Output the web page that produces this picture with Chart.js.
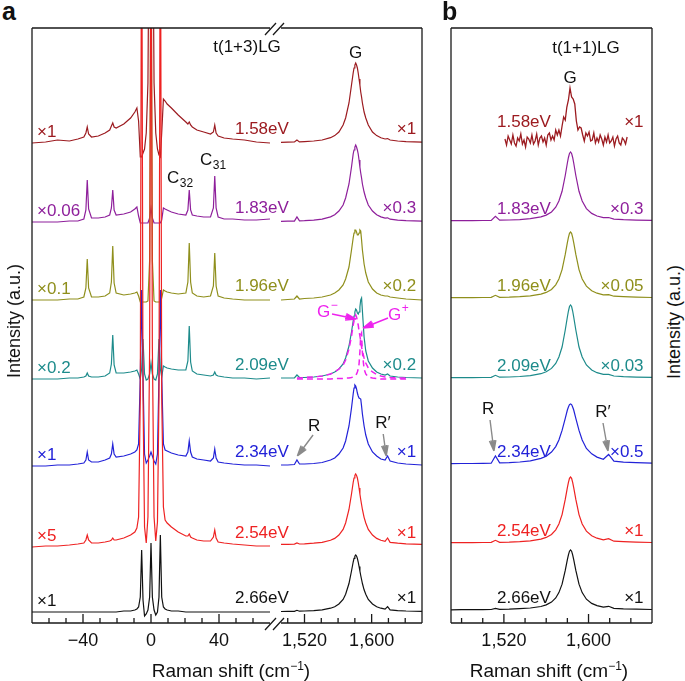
<!DOCTYPE html>
<html>
<head>
<meta charset="utf-8">
<script src="https://cdn.jsdelivr.net/npm/chart.js"></script>
<style>
  body { margin: 0; background: #fff; }
  #fig { position: relative; width: 685px; height: 681px; overflow: hidden;
         font-family: "Liberation Sans", Arial, Helvetica, sans-serif; color: #111; }
  #fig canvas { position: absolute; }
  .t { position: absolute; white-space: nowrap; line-height: 1; }
  .panel { font-weight: bold; font-size: 25px; }
  .xt { font-size: 19px; transform: translate(-50%, -50%); }
  .yt { font-size: 18px; transform: translate(-50%, -50%) rotate(-90deg); }
  sup { font-size: 12px; vertical-align: 7px; line-height: 0; }
</style>
</head>
<body>
<div id="fig">
  <canvas id="aLeft" width="268" height="663" style="left:22px;top:18px"></canvas>
  <canvas id="aRight" width="161" height="663" style="left:271px;top:18px"></canvas>
  <canvas id="bPanel" width="221" height="663" style="left:441px;top:18px"></canvas>
  <div class="t panel" style="left:2px;top:-1px">a</div>
  <div class="t panel" style="left:442px;top:-1px">b</div>
  <div class="t yt" style="left:14px;top:321px">Intensity (a.u.)</div>
  <div class="t yt" style="left:674px;top:322px">Intensity (a.u.)</div>
  <div class="t xt" style="left:231px;top:670px">Raman shift (cm<sup>−1</sup>)</div>
  <div class="t xt" style="left:549px;top:670px">Raman shift (cm<sup>−1</sup>)</div>
</div>

<script>
// excitation energies, top to bottom
const energies = ['1.58eV', '1.83eV', '1.96eV', '2.09eV', '2.34eV', '2.54eV', '2.66eV'];
const factorsLow = ['×1', '×0.06', '×0.1', '×0.2', '×1', '×5', '×1'];
const factorsG = ['×1', '×0.3', '×0.2', '×0.2', '×1', '×1', '×1'];
const factorsB = ['×1', '×0.3', '×0.05', '×0.03', '×0.5', '×1', '×1'];
// vertical stacking of the spectra (a.u.)
const offsetsA = [480, 401, 323, 244, 157, 76, 11];
const offsetsB = [481, 402, 325, 245, 159, 80, 13];

// panel a, low-frequency region (cm-1)
const lowX = [-70, -62, -55, -48, -43, -39.5, -38.3, -37.5, -36.7, -35, -31, -27, -24.3, -23.3, -22.5,
  -21.7, -20.5, -16, -12, -9.5, -8.3, -7.3, -6.3, -5.5, -4.7, -3.8, -2.8, -1.8, -0.8, 0,
  0.8, 1.8, 2.8, 3.8, 4.7, 5.5, 6.3, 7.3, 8.3, 9.5, 12, 16, 20.5, 21.7, 22.5,
  23.3, 24.3, 27, 31, 35, 36.7, 37.5, 38.3, 39.5, 43, 48, 55, 62, 70];
const low158 = [0, 1, 3, 2, 4, 6, 10, 16, 9, 6, 7, 10, 13, 17, 20, 16, 15, 19, 25, 31, 35, 22, -14, -14, -10,
  -6, 10, 60, 300, 600, 300, 60, 10, -6, -12, -14, 10, 44, 42, 39, 35, 28, 21, 19, 21, 18, 16, 13, 11, 9,
  11, 18, 10, 7, 5, 4, 3, 1, 0];
const low183 = [0, 0, 0, 1, 1, 3, 12, 42, 13, 4, 4, 5, 7, 14, 32, 12, 7, 8, 10, 13, 15, 6, -1, -1, -1,
  -1, -1, -1, 4, 14, 4, -1, -1, -1, -1, -1, 2, 14, 13, 12, 10, 8, 7, 12, 32, 12, 7, 6, 5, 5,
  14, 46, 14, 5, 3, 3, 2, 2, 3];
const low196 = [0, 0, 0, 1, 1, 3, 12, 41, 12, 3, 3, 4, 7, 18, 54, 17, 7, 5, 6, 7, 8, 4, -2, -2, -2,
  -2, -2, -1, 40, 400, 40, -1, -2, -2, -2, -2, 2, 10, 9, 8, 7, 6, 7, 18, 57, 18, 7, 4, 3, 4,
  14, 47, 14, 4, 2, 1, 0, 0, 0];
const low209 = [0, 0, 0, 1, 1, 2, 3, 6, 3, 2, 2, 3, 6, 15, 44, 14, 6, 6, 7, 8, 9, 5, 0, 10, 40,
  5, -1, 0, 5, 16, 5, 0, -1, 5, 40, 10, 2, 13, 12, 11, 10, 9, 9, 18, 53, 17, 8, 5, 4, 3,
  4, 7, 4, 3, 2, 1, 1, 0, 1];
const low234 = [0, 0, 1, 1, 2, 3, 6, 14, 6, 4, 4, 6, 8, 12, 22, 12, 9, 10, 12, 14, 16, 22, 90, 176, 90,
  12, 3, 6, 10, 14, 10, 5, 2, 12, 90, 176, 90, 22, 16, 15, 13, 11, 10, 14, 25, 14, 9, 7, 6, 5,
  8, 17, 8, 4, 3, 2, 1, 1, 0];
const low254 = [0, 1, 1, 2, 3, 4, 7, 12, 7, 4, 4, 5, 6, 7, 9, 7, 7, 9, 12, 15, 19, 30, 150, 700, 150,
  20, 4, 30, 200, 700, 200, 30, 6, 25, 150, 700, 150, 40, 27, 24, 20, 15, 11, 11, 13, 10, 9, 7, 6, 6,
  10, 17, 9, 5, 4, 3, 2, 1, 1];
const low266 = [0, 0, 0, 0, 0, 0, 0, 0, 0, 0, 0, 0, 0, 0, 0, 0, 0, 1, 1, 2, 3, 5, 15, 62, 12,
  -4, -2, 2, 15, 69, 15, 2, -3, 0, 15, 77, 15, 5, 3, 2, 1, 1, 0, 0, 0, 0, 0, 0, 0, 0,
  0, 0, 0, 0, 0, 0, 0, 0, 0];

// panel a, G band region (cm-1)
const gX = [1492, 1500, 1508, 1511, 1514, 1520, 1531, 1541, 1551, 1556, 1561, 1566, 1569, 1573, 1576,
  1578, 1579, 1580, 1581, 1582, 1583, 1584, 1585, 1586, 1587, 1588, 1589, 1591, 1593, 1596,
  1601, 1606, 1611, 1616, 1619, 1622, 1631, 1641, 1660];
const g158 = [0.6, 0.8, 1, 3, 1.1, 1.4, 2, 3, 5.3, 7.4, 11, 18, 25, 40, 58, 70, 75, 78, 80, 78,
  75, 70, 64, 58, 51, 46, 40, 31, 25, 18, 11, 7.4, 5.3, 4, 4.4, 3, 2, 1.4, 0.8];
const g183 = [0.6, 0.8, 0.9, 5, 1.1, 1.3, 1.9, 2.9, 5.1, 7.2, 11, 17, 24, 38, 55, 68, 72, 75, 77, 75,
  72, 68, 62, 55, 49, 44, 38, 30, 24, 17, 11, 7.2, 5.1, 3.9, 4.2, 2.8, 1.9, 1.3, 0.8];
const g196 = [0, 0.5, 1, 4, 1, 1.5, 2, 3, 5, 7, 10, 15, 21, 33, 50, 62, 67, 70, 70, 68,
  65, 65, 67, 70, 69, 60, 50, 36, 27, 18, 11, 7, 5, 4, 4, 3, 2, 1, 0];
const g209 = [1, 1, 1, 4, 1.5, 1.5, 2, 3, 5, 7, 10, 15, 21, 33, 47, 58, 63, 67, 70, 69,
  66, 65, 67, 72, 79, 81, 68, 42, 28, 18, 11, 7, 5, 4, 5, 3, 2, 1.5, 1];
const gMinus = [null, null, null, 1, 1, 1.5, 2, 3, 5, 7, 10, 14, 19, 30, 43, 54, 58, 62, 64, 62,
  58, 54, 48, 43, 38, 32, 28, 21, 16, 11, 7, 4.5, 3, 2, 2, 1.5, 1, 1, null];
const gPlus = [null, null, null, 0, 0, 0, 0, 0, 0, 0.5, 0.5, 0.5, 1, 1, 1.5, 2, 2.5, 3, 4, 5,
  7, 10, 15, 27, 44, 46, 26, 10, 5, 2, 1, 0.5, 0, 0, 0, 0, 0, 0, null];
const g234 = [1, 1, 1.5, 6, 2, 2, 2.5, 3.5, 6, 8, 12, 18, 25, 40, 58, 72, 78, 81, 80, 77,
  73, 70, 68, 68, 67, 60, 52, 40, 31, 22, 14, 10, 7, 6, 10, 5, 3, 2, 1];
const g254 = [2.6, 2.7, 2.9, 4, 3, 3.2, 3.8, 4.7, 6.7, 8.6, 12, 17.6, 24, 37.5, 53, 64.5, 69, 71.6, 73, 71.6,
  69, 64.5, 59, 53, 47.5, 42.5, 37.5, 29.7, 24, 17.6, 12, 8.6, 6.7, 5.6, 9, 4.6, 3.8, 3.2, 2.7];
const g266 = [0.5, 0.6, 0.7, 1.7, 0.8, 1, 1.4, 2.2, 3.8, 5.3, 8, 12.5, 17.7, 28.5, 41, 50, 53.6, 55.9, 57, 55.9,
  53.6, 50, 45.6, 41, 36.5, 32.5, 28.5, 22.2, 17.7, 12.5, 8, 5.3, 3.8, 2.9, 5.4, 2.1, 1.4, 1, 0.6];

// panel b, G band region (cm-1)
const bX = [1470, 1480, 1490, 1500, 1508, 1512, 1516, 1525, 1535, 1545, 1555, 1560, 1565, 1569, 1572,
  1575, 1578, 1580, 1581, 1582, 1583, 1584, 1585, 1586, 1588, 1591, 1594, 1598, 1603, 1608,
  1614, 1619, 1624, 1633, 1645, 1660];
const b158Start = 1521, b158Step = 1.5;
const b158 = [3, -3, 6, 2, -2, 7, -1, -4, 4, 1, 8, -2, 2, -5, 5, 3, -1, 7, -2, 1,
  8, -3, 4, 6, 0, 4, -3, 7, 9, 2, 6, 2, 12, 7, 12, 6, 16, 25, 22, 35,
  42, 54, 45, 43, 38, 21, 12, 15, 14, 7, 1, 9, 6, 10, 1, 2, 9, -1, 4, 0,
  7, 3, -3, 5, 0, 7, -1, 1, 5, -4, 3, 6, -1, -3, 4, 2, -2, 5];
const b183 = [0.3, 0.3, 0.4, 0.5, 0.6, 4.7, 0.8, 1, 1.4, 2.3, 4.1, 5.9, 9, 13.8, 20, 29.7, 45.5, 58,
  63.5, 67.6, 69, 67.6, 63.5, 58, 45.5, 29.7, 20, 12.4, 7.6, 5, 3.4, 3.5, 1.9, 1.3, 0.9, 0.6];
const b196 = [0.3, 0.3, 0.4, 0.5, 0.6, 2.7, 0.7, 0.9, 1.4, 2.2, 3.9, 5.6, 8.6, 13.2, 19, 28.4, 43.6, 55.4,
  60.7, 64.7, 66, 64.7, 60.7, 55.4, 43.6, 28.4, 19, 11.9, 7.3, 4.8, 3.2, 3.4, 1.8, 1.3, 0.9, 0.5];
const b209 = [0.3, 0.4, 0.4, 0.5, 0.7, 2.7, 0.8, 1, 1.5, 2.4, 4.3, 6.2, 9.6, 14.6, 21, 31, 48, 61,
  67, 71.5, 73, 71.5, 67, 61, 48, 31, 21, 13, 8, 5.3, 3.6, 3.6, 2, 1.4, 0.9, 0.6];
const b234 = [0.4, 0.5, 0.5, 0.7, 0.8, 8, 1.1, 1.4, 2, 3.2, 5.6, 7.8, 12, 17.4, 24, 33.6, 45.6, 54,
  57, 59.4, 60, 59.4, 57, 54, 45.6, 33.6, 24, 15.6, 10.2, 6.9, 4.7, 9.5, 2.8, 1.9, 1.3, 0.8];
const b254 = [0.3, 0.3, 0.4, 0.5, 0.6, 2.7, 0.7, 0.9, 1.4, 2.2, 3.9, 5.6, 8.6, 13.2, 19, 28.4, 43.6, 55.4,
  60.7, 64.7, 66, 64.7, 60.7, 55.4, 43.6, 28.4, 19, 11.9, 7.3, 4.8, 3.2, 4.4, 1.8, 1.3, 0.9, 0.5];
const b266 = [0.2, 0.3, 0.4, 0.4, 0.5, 1.6, 0.7, 0.8, 1.3, 2, 3.5, 5.1, 7.9, 12, 17.4, 25.8, 39.6, 50.4,
  55.2, 58.8, 60, 58.8, 55.2, 50.4, 39.6, 25.8, 17.4, 10.8, 6.6, 4.4, 2.9, 3.7, 1.7, 1.1, 0.8, 0.5];

// axis ticks
const lowTicks = [-60, -50, -40, -30, -20, -10, 0, 10, 20, 30, 40, 50, 60];
const lowLabels = {'-40': '−40', '0': '0', '40': '40'};
const gTicks = [1500, 1520, 1540, 1560, 1580, 1600, 1620, 1640];
const bTicks = [1480, 1500, 1520, 1540, 1560, 1580, 1600, 1620, 1640];
const gLabels = {'1520': '1,520', '1600': '1,600'};

const FONT = '"Liberation Sans", Arial, Helvetica, sans-serif';
const palette = ['#9c1b20', '#8e1f9b', '#8f8f1c', '#1d8b8b', '#2222d8', '#ee2222', '#111111'];
const magenta = '#ee22ee', grey = '#8a8a8a';
Chart.defaults.font.family = FONT;

function lineSet(xs, ys, off, color, order, extra) {
  return Object.assign({
    data: xs.map((x, i) => ({x: x, y: ys[i] == null ? null : off + ys[i]})),
    borderColor: color, borderWidth: 1.2, pointRadius: 0, tension: 0,
    fill: false, clip: 0, order: order, spanGaps: false
  }, extra || {});
}

function decor(cfg) {
  return {
    id: 'decor',
    afterDatasetsDraw(chart) {
      const {ctx, chartArea: a, scales: {x, y}} = chart;
      ctx.save();
      ctx.strokeStyle = '#1a1a1a';
      ctx.lineWidth = 1.3;
      ctx.beginPath();
      ctx.moveTo(a.left, a.top); ctx.lineTo(a.right, a.top);
      ctx.moveTo(a.left, a.bottom); ctx.lineTo(a.right, a.bottom);
      if (cfg.leftEdge) { ctx.moveTo(a.left, a.top); ctx.lineTo(a.left, a.bottom); }
      if (cfg.rightEdge) { ctx.moveTo(a.right, a.top); ctx.lineTo(a.right, a.bottom); }
      x.ticks.forEach(t => {
        const px = x.getPixelForValue(t.value);
        const len = cfg.major.includes(t.value) ? 9 : 5;
        ctx.moveTo(px, a.bottom); ctx.lineTo(px, a.bottom - len);
      });
      if (cfg.breakMarks) {
        [a.top, a.bottom].forEach(yy => {
          ctx.moveTo(a.right - 5, yy + 7); ctx.lineTo(a.right + 6, yy - 5);
          ctx.moveTo(a.right + 3, yy + 7); ctx.lineTo(a.right + 14, yy - 5);
        });
      }
      ctx.stroke();

      // arrows
      (cfg.arrows || []).forEach(ar => {
        const x0 = x.getPixelForValue(ar.from[0]), y0 = y.getPixelForValue(ar.from[1]);
        const x1 = x.getPixelForValue(ar.to[0]), y1 = y.getPixelForValue(ar.to[1]);
        const ang = Math.atan2(y1 - y0, x1 - x0);
        ctx.strokeStyle = ar.color;
        ctx.lineWidth = 1.4;
        ctx.beginPath();
        ctx.moveTo(x0, y0); ctx.lineTo(x1, y1);
        [-0.3, -0.15, 0.15, 0.3].forEach(d => {
          ctx.moveTo(x1, y1);
          ctx.lineTo(x1 - 11 * Math.cos(ang + d), y1 - 11 * Math.sin(ang + d));
        });
        ctx.stroke();
      });

      // text
      ctx.textBaseline = 'middle';
      cfg.texts.forEach(t => {
        const size = t.size || 17;
        ctx.font = size + 'px ' + FONT;
        ctx.fillStyle = t.color || '#111';
        ctx.textAlign = t.align || 'center';
        const px = x.getPixelForValue(t.x), py = y.getPixelForValue(t.y);
        ctx.fillText(t.text, px, py);
        if (t.sub || t.sup) {
          const w = ctx.measureText(t.text).width;
          ctx.font = '12px ' + FONT;
          ctx.textAlign = 'left';
          ctx.fillText(t.sub || t.sup, px + w + 0.5, py + (t.sub ? 6 : -6));
        }
      });
      ctx.restore();
    }
  };
}

function options(xmin, xmax, tickVals, tickText, padRight) {
  return {
    responsive: false, animation: false, devicePixelRatio: 1, events: [],
    layout: {padding: {left: 10, right: padRight, top: 10, bottom: 18}},
    plugins: {legend: {display: false}, tooltip: {enabled: false}},
    scales: {
      x: {
        type: 'linear', min: xmin, max: xmax,
        afterBuildTicks: s => { s.ticks = tickVals.map(v => ({value: v})); },
        afterFit: s => { s.height = 40; },
        grid: {display: false, drawTicks: false},
        border: {display: false},
        ticks: {autoSkip: false, maxRotation: 0, minRotation: 0, padding: 7, color: '#111',
                font: {size: 18}, callback: v => tickText[v] || ''}
      },
      y: {display: false, min: 0, max: 595}
    }
  };
}

// drawing order: red on top, then black, blue ...
const drawOrder = [6, 5, 4, 3, 2, 0, 1];

// ---- panel a, low-frequency part
const lowSets = [low158, low183, low196, low209, low234, low254, low266];
new Chart(document.getElementById('aLeft'), {
  type: 'line',
  data: {datasets: lowSets.map((s, i) => lineSet(lowX, s, offsetsA[i], palette[i], drawOrder[i]))},
  options: options(-70, 70, lowTicks, lowLabels, 20),
  plugins: [decor({
    leftEdge: true, breakMarks: true, major: [-40, 0, 40],
    texts: [
      ...factorsLow.map((f, i) => ({text: f, x: -67, y: offsetsA[i] + 11, color: palette[i], align: 'left'})),
      ...energies.map((e, i) => ({text: e, x: 49.4, y: offsetsA[i] + 14, color: palette[i], align: 'left'})),
      {text: 't(1+3)LG', x: 56.5, y: 576},
      {text: 'C', sub: '32', x: 9.4, y: 445, align: 'left'},
      {text: 'C', sub: '31', x: 28.8, y: 463, align: 'left'}
    ]
  })]
});

// ---- panel a, G band part
const gSets = [g158, g183, g196, g209, g234, g254, g266];
const gDatasets = gSets.map((s, i) => lineSet(gX, s, offsetsA[i], palette[i], drawOrder[i] + 2));
gDatasets.push(lineSet(gX, gMinus, offsetsA[3], magenta, 0, {borderDash: [6, 4], borderWidth: 1.5}));
gDatasets.push(lineSet(gX, gPlus, offsetsA[3], magenta, 1, {borderDash: [6, 4], borderWidth: 1.5}));
new Chart(document.getElementById('aRight'), {
  type: 'line',
  data: {datasets: gDatasets},
  options: options(1492, 1660, gTicks, gLabels, 10),
  plugins: [decor({
    rightEdge: true, major: [1520, 1600],
    arrows: [
      {from: [1530.2, 188], to: [1511.5, 167], color: grey},
      {from: [1613.8, 189], to: [1617.4, 167], color: grey},
      {from: [1552.8, 309], to: [1581.4, 304], color: magenta},
      {from: [1619.5, 305], to: [1589.7, 295], color: magenta}
    ],
    texts: [
      ...factorsG.map((f, i) => ({text: f, x: 1653, y: offsetsA[i] + 14, color: palette[i], align: 'right'})),
      {text: 'G', x: 1581, y: 570},
      {text: 'R', x: 1531.4, y: 197},
      {text: 'R′', x: 1613.6, y: 200},
      {text: 'G', sup: '−', x: 1534.9, y: 311, color: magenta, align: 'left'},
      {text: 'G', sup: '+', x: 1619.5, y: 308, color: magenta, align: 'left'}
    ]
  })]
});

// ---- panel b
const bSets = [null, b183, b196, b209, b234, b254, b266];
const bDatasets = bSets.map((s, i) => {
  if (i === 0) {
    const xs = b158.map((v, k) => b158Start + k * b158Step);
    return lineSet(xs, b158, offsetsB[0], palette[0], drawOrder[0], {borderWidth: 1.3});
  }
  return lineSet(bX, s, offsetsB[i], palette[i], drawOrder[i]);
});
new Chart(document.getElementById('bPanel'), {
  type: 'line',
  data: {datasets: bDatasets},
  options: options(1470, 1660, bTicks, gLabels, 10),
  plugins: [decor({
    leftEdge: true, rightEdge: true, major: [1520, 1600],
    arrows: [
      {from: [1506.9, 203], to: [1510.6, 172], color: grey},
      {from: [1613.7, 200], to: [1618.4, 172], color: grey}
    ],
    texts: [
      ...energies.map((e, i) => ({text: e, x: 1513.5, y: offsetsB[i] + (i === 0 ? 20 : 12), color: palette[i], align: 'left'})),
      ...factorsB.map((f, i) => ({text: f, x: 1652, y: offsetsB[i] + (i === 0 ? 20 : 12), color: palette[i], align: 'right'})),
      {text: 't(1+1)LG', x: 1597.6, y: 575},
      {text: 'G', x: 1582.5, y: 545},
      {text: 'R', x: 1505, y: 214},
      {text: 'R′', x: 1613.7, y: 211}
    ]
  })]
});
</script>
</body>
</html>
